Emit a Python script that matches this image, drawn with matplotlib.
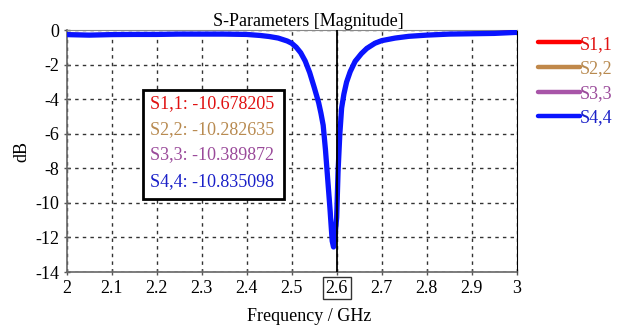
import matplotlib.pyplot as plt
from matplotlib.patches import Rectangle

# частоты (GHz) и значения S-параметров (dB)
freq = [2.00, 2.05, 2.10, 2.15, 2.20, 2.25, 2.30, 2.35, 2.40, 2.43, 2.45, 2.47,
        2.49, 2.50, 2.51, 2.52, 2.53, 2.54, 2.55, 2.56, 2.565, 2.57, 2.575, 2.58,
        2.585, 2.59, 2.593, 2.596, 2.60, 2.603, 2.607, 2.611, 2.616, 2.622, 2.63,
        2.641, 2.655, 2.667, 2.685, 2.70, 2.73, 2.76, 2.80, 2.85, 2.90, 2.95, 3.00]

s44 = [-0.25, -0.28, -0.25, -0.24, -0.24, -0.22, -0.22, -0.22, -0.24, -0.30, -0.36, -0.45,
       -0.62, -0.75, -0.98, -1.30, -1.78, -2.45, -3.30, -4.20, -4.80, -5.50, -6.90, -8.60,
       -10.3, -12.2, -12.55, -12.0, -10.84, -8.2, -6.0, -4.5, -3.7, -3.0, -2.4,
       -1.8, -1.35, -1.05, -0.75, -0.60, -0.45, -0.35, -0.28, -0.22, -0.20, -0.18, -0.12]

s11 = [-0.22, -0.25, -0.23, -0.22, -0.22, -0.20, -0.20, -0.20, -0.22, -0.28, -0.34, -0.43,
       -0.60, -0.73, -0.95, -1.27, -1.75, -2.40, -3.25, -4.15, -4.75, -5.45, -6.80, -8.45,
       -10.1, -11.9, -12.3, -11.8, -10.68, -8.1, -5.9, -4.45, -3.65, -2.95, -2.35,
       -1.76, -1.32, -1.02, -0.72, -0.58, -0.43, -0.33, -0.26, -0.20, -0.18, -0.15, -0.06]

s22 = [-0.24, -0.27, -0.24, -0.23, -0.23, -0.21, -0.21, -0.21, -0.23, -0.29, -0.35, -0.44,
       -0.61, -0.74, -0.96, -1.28, -1.76, -2.42, -3.27, -4.17, -4.77, -5.47, -6.75, -8.35,
       -9.9, -11.6, -12.0, -11.5, -10.28, -7.9, -5.85, -4.4, -3.62, -2.93, -2.33,
       -1.75, -1.31, -1.01, -0.72, -0.58, -0.43, -0.33, -0.26, -0.21, -0.19, -0.16, -0.10]

s33 = [-0.24, -0.27, -0.24, -0.23, -0.23, -0.21, -0.21, -0.21, -0.23, -0.29, -0.35, -0.44,
       -0.61, -0.74, -0.96, -1.29, -1.77, -2.43, -3.28, -4.18, -4.78, -5.48, -6.80, -8.40,
       -10.0, -11.8, -12.2, -11.7, -10.39, -8.0, -5.9, -4.45, -3.65, -2.95, -2.35,
       -1.76, -1.32, -1.02, -0.73, -0.59, -0.44, -0.34, -0.27, -0.21, -0.19, -0.16, -0.10]

names = ['S1,1', 'S2,2', 'S3,3', 'S4,4']
colors = ['#ff0000', '#c0884a', '#a855a8', '#0a14ff']
text_colors = ['#e01010', '#b88a50', '#9a4a9a', '#1a20c8']
marker_vals = ['-10.678205', '-10.282635', '-10.389872', '-10.835098']
marker_f = 2.6

xticks = [2, 2.1, 2.2, 2.3, 2.4, 2.5, 2.6, 2.7, 2.8, 2.9, 3]
xlabels = ['2', '2.1', '2.2', '2.3', '2.4', '2.5', '2.6', '2.7', '2.8', '2.9', '3']
yticks = [0, -2, -4, -6, -8, -10, -12, -14]

plt.rcParams['font.family'] = ['Liberation Serif', 'DejaVu Serif']
plt.rcParams['font.size'] = 13
plt.rcParams['axes.unicode_minus'] = False

fig = plt.figure(figsize=(6.21, 3.25), dpi=100)
ax = fig.add_axes([0.1074, 0.163, 0.7246, 0.7438])

series = [s11, s22, s33, s44]
widths = [2.2, 2.2, 2.2, 3.8]
for vals, c, w, n in zip(series, colors, widths, names):
    ax.plot(freq, vals, color=c, lw=w, label=n, solid_capstyle='round', zorder=3)

ax.axvline(marker_f, color='black', lw=1.3, zorder=4)

ax.set_xlim(2, 3)
ax.set_ylim(-14, 0)
ax.set_xticks(xticks)
ax.set_xticklabels(xlabels)
ax.set_yticks(yticks)
ax.grid(True, color='#333333', linestyle=(0, (2.5, 3)), lw=1.0)
ax.tick_params(direction='inout', length=5, width=1, color='#555555', pad=3)

for s in ['left', 'bottom']:
    ax.spines[s].set_color('#666666')
    ax.spines[s].set_linewidth(1.2)
ax.spines['right'].set_color('black')
ax.spines['top'].set_color('#888888')
ax.spines['top'].set_linewidth(0.8)

# рамка вокруг подписи маркера
for lab in ax.get_xticklabels():
    if lab.get_text() == '2.6':
        lab.set_bbox(dict(facecolor='white', edgecolor='#333333', lw=1.0, pad=2.0))

ax.set_title('S-Parameters [Magnitude]', fontsize=13, pad=1, x=0.536)
ax.set_xlabel('Frequency / GHz', fontsize=13)
ax.xaxis.set_label_coords(0.54, -0.15)
ax.set_ylabel('dB', fontsize=13)
ax.yaxis.set_label_coords(-0.08, 0.5)

# блок значений маркера
ax.add_patch(Rectangle((0.170, 0.302), 0.313, 0.451, transform=ax.transAxes,
                       facecolor='white', edgecolor='black', lw=2.0, zorder=5))
row_y = [0.695, 0.588, 0.484, 0.376]
for n, v, c, y in zip(names, marker_vals, text_colors, row_y):
    ax.text(0.185, y, n + ': ' + v, transform=ax.transAxes,
            color=c, fontsize=13, va='center', ha='left', zorder=6)

leg = ax.legend(loc='upper left', bbox_to_anchor=(1.02, 1.03), frameon=False,
                handlelength=2.3, handletextpad=0.0, labelspacing=0.42, fontsize=13,
                borderpad=0.2)
for t, c in zip(leg.get_texts(), text_colors):
    t.set_color(c)
for h in leg.get_lines():
    h.set_linewidth(3.2)

fig.savefig('out.png', dpi=100)
